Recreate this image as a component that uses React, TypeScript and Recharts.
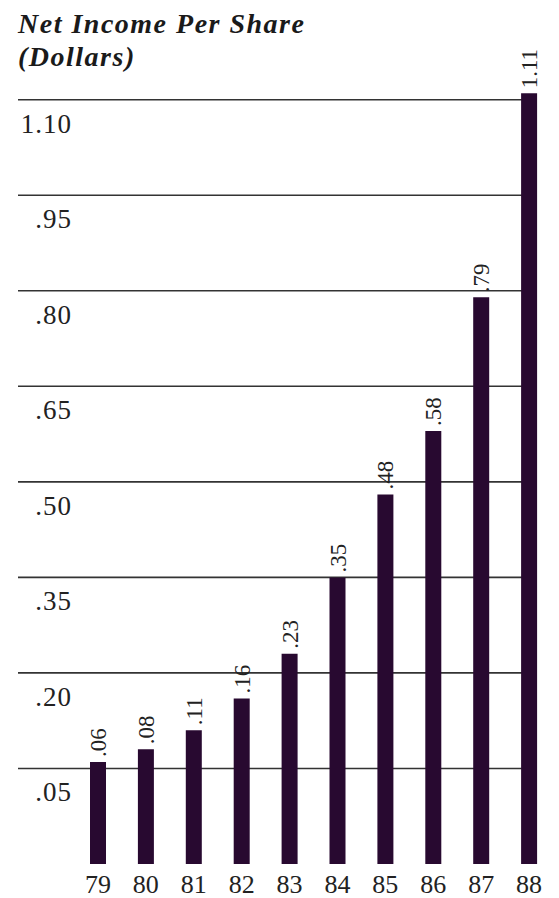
import { BarChart, Bar, XAxis, YAxis, CartesianGrid, LabelList } from "recharts";

const years = ["79", "80", "81", "82", "83", "84", "85", "86", "87", "88"];
const netIncomePerShare = [0.06, 0.08, 0.11, 0.16, 0.23, 0.35, 0.48, 0.58, 0.79, 1.11];
const valueLabels = [".06", ".08", ".11", ".16", ".23", ".35", ".48", ".58", ".79", "1.11"];
const gridValues = [0.05, 0.2, 0.35, 0.5, 0.65, 0.8, 0.95, 1.1];
const gridLabels = [".05", ".20", ".35", ".50", ".65", ".80", ".95", "1.10"];

// bars in the original run a little below the zero line
const BAR_BASE = -0.1;
const DOMAIN_TOP = 1.2;

const BAR_COLOR = "#280930";
const INK = "#222";
const SERIF = "'Liberation Serif', 'DejaVu Serif', serif";

const data = years.map((year, i) => ({
  year,
  eps: netIncomePerShare[i],
  label: valueLabels[i],
}));

const YTick = (props: any) => {
  const idx = gridValues.indexOf(props.payload.value);
  return (
    <text
      x={72}
      y={props.y + 33}
      textAnchor="end"
      fontSize={27}
      fontFamily={SERIF}
      fill={INK}
      letterSpacing={1}
    >
      {gridLabels[idx]}
    </text>
  );
};

const ValueLabel = (props: any) => {
  const { x, y, width, index } = props;
  const cx = x + width / 2;
  return (
    <text
      transform={`translate(${cx + 8},${y - 5}) rotate(-90)`}
      textAnchor="start"
      fontSize={23}
      fontFamily={SERIF}
      fill={INK}
    >
      {data[index].label}
    </text>
  );
};

const gridLine = (p: any) => (
  <line
    key={`grid-${p.index ?? p.y1}`}
    x1={p.x1}
    y1={p.y1}
    x2={p.x2 - 16}
    y2={p.y2}
    stroke="#333"
    strokeWidth={1.6}
  />
);

export default function App() {
  return (
    <div
      style={{
        position: "absolute",
        left: 0,
        top: 0,
        width: 559,
        height: 898,
        background: "#fff",
        overflow: "hidden",
      }}
    >
      <div
        style={{
          position: "absolute",
          left: 18,
          top: 7,
          fontFamily: SERIF,
          fontWeight: "bold",
          fontStyle: "italic",
          fontSize: 28,
          lineHeight: "33px",
          letterSpacing: 1.5,
          color: "#1a1a1a",
        }}
      >
        Net Income Per Share
        <br />
        (Dollars)
      </div>
      <BarChart
        width={559}
        height={898}
        data={data}
        margin={{ top: 36, right: 6, left: 0, bottom: 0 }}
      >
        <CartesianGrid vertical={false} horizontal={gridLine} syncWithTicks />
        <XAxis
          dataKey="year"
          height={34}
          axisLine={false}
          tickLine={false}
          tickSize={0}
          tickMargin={11}
          padding={{ left: 56, right: 0 }}
          interval={0}
          tick={{ fontSize: 26, fontFamily: SERIF, fill: INK }}
        />
        <YAxis
          type="number"
          width={18}
          domain={[BAR_BASE, DOMAIN_TOP]}
          ticks={gridValues}
          axisLine={false}
          tickLine={false}
          allowDataOverflow
          tick={<YTick />}
        />
        <Bar
          dataKey={(d: any) => [BAR_BASE, d.eps]}
          fill={BAR_COLOR}
          barSize={16}
          isAnimationActive={false}
        >
          <LabelList content={<ValueLabel />} />
        </Bar>
      </BarChart>
    </div>
  );
}
